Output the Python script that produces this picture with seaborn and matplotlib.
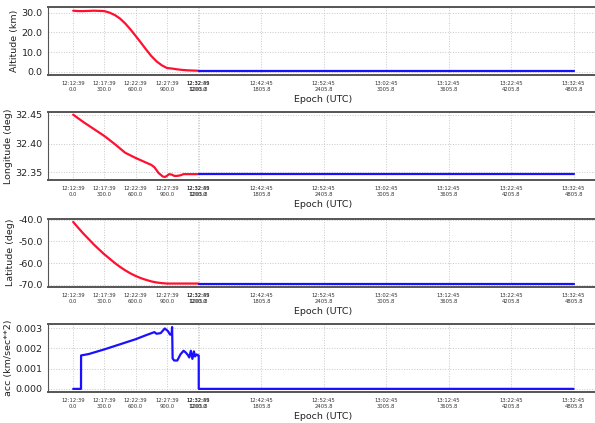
import numpy as np
import pandas as pd
import seaborn as sns
import matplotlib
matplotlib.use("Agg")
import matplotlib.pyplot as plt

# ---- data ----
# descent phase (red), seconds from epoch
t_alt = [0, 50, 100, 200, 300, 350, 400, 450, 500, 550, 600, 650, 700, 750, 800, 850,
         900, 950, 1000, 1050, 1100, 1150, 1200]
alt_descent = [31.0, 30.8, 30.8, 31.0, 30.8, 30.0, 28.8, 27.0, 24.5, 21.5, 18.2, 14.8,
               11.3, 8.0, 5.3, 3.3, 1.9, 1.6, 1.2, 0.9, 0.7, 0.6, 0.5]

t_lon = [0, 100, 200, 300, 400, 500, 600, 700, 750, 780, 820, 860, 880, 900, 920, 950,
         970, 1000, 1030, 1060, 1100, 1200]
lon_descent = [32.450, 32.437, 32.425, 32.413, 32.399, 32.384, 32.375, 32.367, 32.363,
               32.359, 32.349, 32.343, 32.342, 32.344, 32.347, 32.346, 32.344, 32.344,
               32.345, 32.347, 32.347, 32.347]

t_lat = [0, 50, 100, 150, 200, 250, 300, 350, 400, 450, 500, 550, 600, 650, 700, 750,
         800, 850, 900, 1200]
lat_descent = [-41.0, -43.8, -46.5, -49.0, -51.5, -53.8, -56.0, -58.0, -60.0, -61.8,
               -63.4, -64.8, -66.0, -67.0, -67.8, -68.5, -69.0, -69.3, -69.5, -69.5]

# surface phase (blue)
t_surface = [1205.8, 4805.8]
alt_surface = [0.5, 0.5]
lon_surface = [32.347, 32.347]
lat_surface = [-69.5, -69.5]

# acceleration (blue for whole run)
t_acc = [0, 75, 76, 150, 300, 450, 600, 700, 780, 800, 840, 880, 910, 930, 945, 950,
         955, 970, 1000, 1030, 1060, 1080, 1100, 1115, 1130, 1145, 1160, 1170, 1185,
         1200, 1205.8, 1206, 4805.8]
acc = [0.0, 0.0, 0.00165, 0.00172, 0.00195, 0.00220, 0.00245, 0.00265, 0.00280,
       0.00272, 0.00275, 0.00298, 0.00285, 0.00268, 0.00268, 0.00305, 0.00150,
       0.00140, 0.00140, 0.00170, 0.00188, 0.00180, 0.00168, 0.00155, 0.00188,
       0.00148, 0.00185, 0.00160, 0.00170, 0.00165, 0.00165, 0.0, 0.0]

tick_pos = [0.0, 300.0, 600.0, 900.0, 1200.0, 1205.8, 1805.8, 2405.8, 3005.8, 3605.8, 4205.8, 4805.8]
tick_labels = ["12:12:39\n0.0", "12:17:39\n300.0", "12:22:39\n600.0", "12:27:39\n900.0",
               "12:32:39\n1200.0", "12:32:45\n1205.8", "12:42:45\n1805.8", "12:52:45\n2405.8",
               "13:02:45\n3005.8", "13:12:45\n3605.8", "13:22:45\n4205.8", "13:32:45\n4805.8"]

sns.set_style("whitegrid", {"grid.linestyle": ":", "grid.color": "#c8c8c8"})
plt.rcParams["font.family"] = ["DejaVu Sans"]

fig = plt.figure(figsize=(5.95, 4.23), dpi=100)

panels = [
    ("Altitude (km)", t_alt, alt_descent, alt_surface, [0, 10, 20, 30], "%.1f", (-1.6, 33.0)),
    ("Longitude (deg)", t_lon, lon_descent, lon_surface, [32.35, 32.40, 32.45], "%.2f", (32.3365, 32.4545)),
    ("Latitude (deg)", t_lat, lat_descent, lat_surface, [-70, -60, -50, -40], "%.1f", (-71.0, -39.5)),
    ("acc (km/sec**2)", None, None, None, [0.0, 0.001, 0.002, 0.003], "%.3f", (-0.00016, 0.0032)),
]
bottoms = [0.823, 0.574, 0.322, 0.073]

for (ylabel, td, yd, ys, yt, fmt, ylim), b in zip(panels, bottoms):
    ax = fig.add_axes([0.081, b, 0.925, 0.161])
    if yd is not None:
        sns.lineplot(x=td, y=yd, ax=ax, color="#ff1030", linewidth=1.6)
        sns.lineplot(x=t_surface, y=ys, ax=ax, color="#1a10ff", linewidth=1.6)
    else:
        sns.lineplot(x=t_acc, y=acc, ax=ax, color="#1a10ff", linewidth=1.6,
                     estimator=None, sort=False)
    ax.set_xlim(-240, 5046)
    ax.set_ylim(*ylim)
    ax.set_xticks(tick_pos)
    ax.set_xticklabels(tick_labels, fontsize=3.8, color="#333333")
    ax.set_yticks(yt)
    ax.set_yticklabels([fmt % v for v in yt], fontsize=6.8, color="#222222")
    ax.tick_params(axis="x", length=2.5, width=0.6, pad=2, color="#333333")
    ax.tick_params(axis="y", length=2.5, width=0.6, pad=1.5, color="#333333")
    ax.set_ylabel(ylabel, fontsize=6.8, color="#222222", labelpad=2)
    ax.set_xlabel("Epoch (UTC)", fontsize=6.8, color="#222222", labelpad=2)
    ax.grid(True, linestyle=":", color="#c8c8c8", linewidth=0.7)
    for side in ["top", "bottom"]:
        ax.spines[side].set_color("#555555")
        ax.spines[side].set_linewidth(1.4)
    ax.spines["left"].set_color("#555555")
    ax.spines["left"].set_linewidth(0.8)

fig.savefig("out.png", dpi=100)
